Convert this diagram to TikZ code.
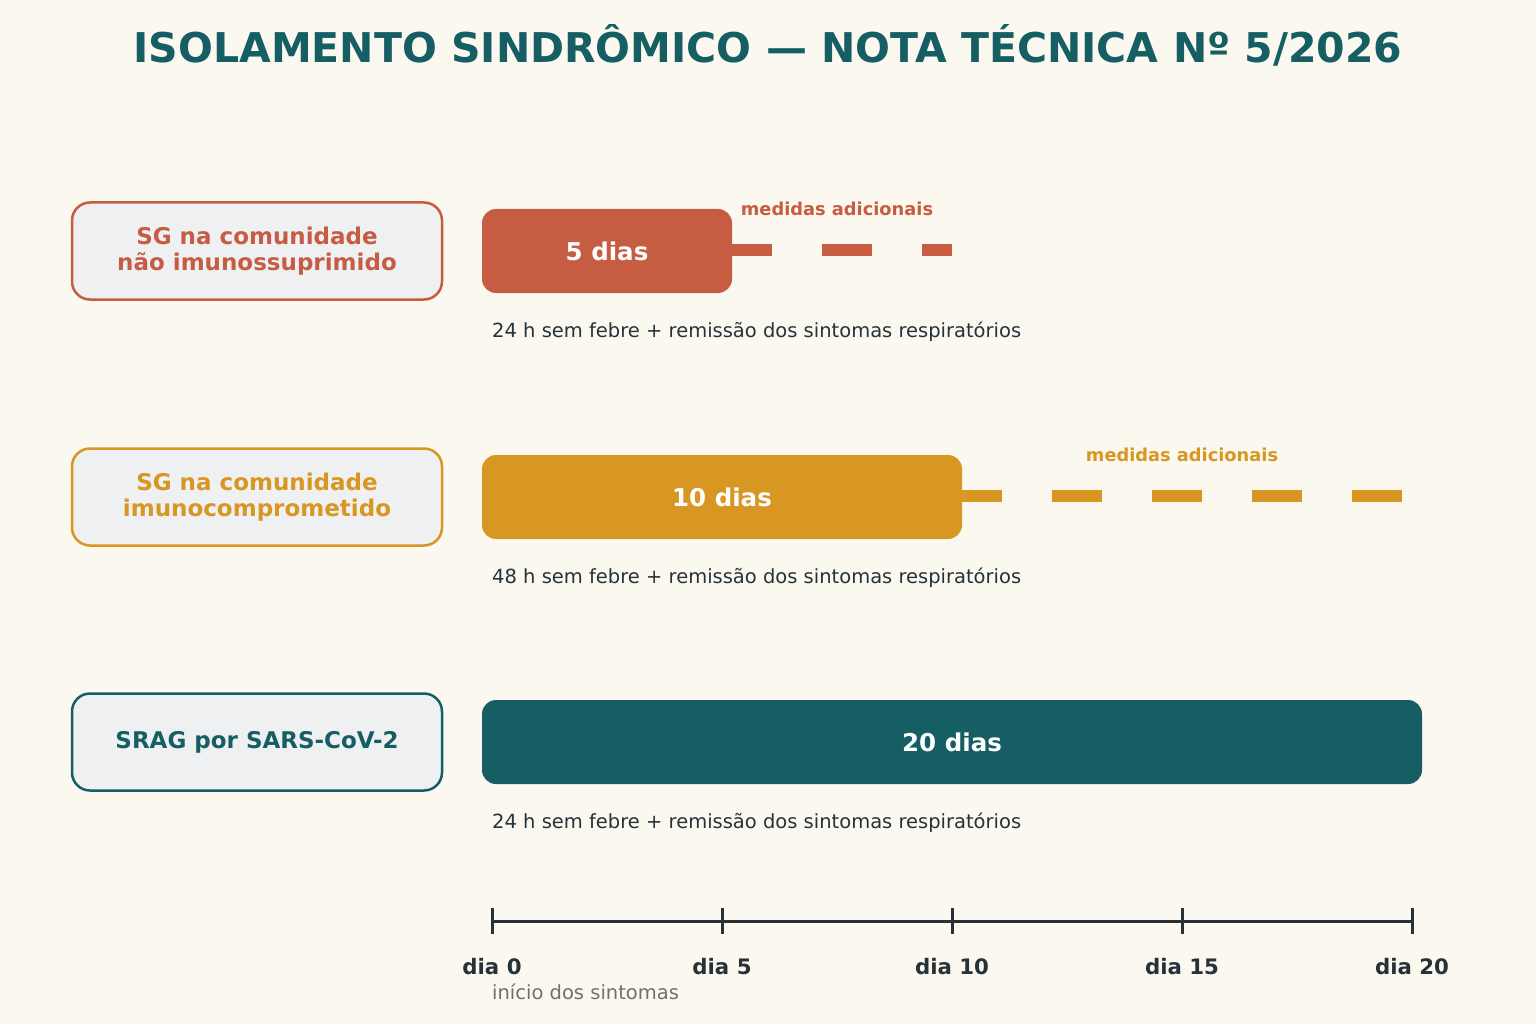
\documentclass[tikz,border=0pt]{standalone}
\usepackage{fontspec}
\setmainfont{DejaVu Sans}
\definecolor{bg}{HTML}{FBF8F0}
\definecolor{cred}{HTML}{C65D42}
\definecolor{corange}{HTML}{D89623}
\definecolor{cteal}{HTML}{155E63}
\definecolor{boxfill}{HTML}{EFF0F1}
\definecolor{dark}{HTML}{263238}
\definecolor{greytxt}{HTML}{707070}
\begin{document}
\begin{tikzpicture}[x=1pt,y=-1pt,
  catbox/.style={draw=#1, line width=2.5pt, fill=boxfill, rounded corners=18pt,
    minimum width=370pt, minimum height=97pt, align=center, text=#1,
    font=\bfseries\fontsize{23}{26.5}\selectfont, inner sep=0pt},
  bar/.style={fill=#1, rounded corners=14pt, minimum height=84pt, text=white,
    font=\bfseries\fontsize{24.5}{28}\selectfont, inner sep=0pt},
  extra/.style={draw=#1, line width=12pt, dash pattern=on 50pt off 50pt},
  extralabel/.style={text=#1, font=\bfseries\fontsize{17.8}{21}\selectfont, inner sep=0pt},
  cond/.style={text=dark, font=\fontsize{19.5}{23}\selectfont, anchor=west, inner sep=0pt},
  tick/.style={draw=dark, line width=3pt},
  daylabel/.style={text=dark, font=\bfseries\fontsize{21.3}{25}\selectfont, inner sep=0pt}
]
\useasboundingbox (0,0) rectangle (1536,1024);
\fill[bg] (0,0) rectangle (1536,1024);

\node[text=cteal, font=\bfseries\fontsize{41}{48}\selectfont, inner sep=0pt] (title) at (768,45)
  {ISOLAMENTO SINDRÔMICO — NOTA TÉCNICA Nº 5/2026};

% day positions
\coordinate (r1d5) at (722,250);
\coordinate (r1d10) at (952,250);
\coordinate (r2d10) at (952,496);
\coordinate (r2d20) at (1412,496);

% additional measures (dashed)
\draw[extra=cred] (r1d5) -- (r1d10);
\draw[extra=corange] (r2d10) -- (r2d20);

% category boxes
\node[catbox=cred] (c1) at (257,251) {SG na comunidade\\não imunossuprimido};
\node[catbox=corange] (c2) at (257,497) {SG na comunidade\\imunocomprometido};
\node[catbox=cteal] (c3) at (257,742) {SRAG por SARS-CoV-2};

% bars
\node[bar=cred, minimum width=250pt] (b1) at (607,251) {5 dias};
\node[bar=corange, minimum width=480pt] (b2) at (722,497) {10 dias};
\node[bar=cteal, minimum width=940pt] (b3) at (952,742) {20 dias};

\node[extralabel=cred] (m1) at (837,209) {medidas adicionais};
\node[extralabel=corange] (m2) at (1182,455) {medidas adicionais};

\node[cond] (t1) at (492,332) {24 h sem febre + remissão dos sintomas respiratórios};
\node[cond] (t2) at (492,578) {48 h sem febre + remissão dos sintomas respiratórios};
\node[cond] (t3) at (492,823) {24 h sem febre + remissão dos sintomas respiratórios};

% axis
\coordinate (a0) at (492,921);
\coordinate (a5) at (722,921);
\coordinate (a10) at (952,921);
\coordinate (a15) at (1182,921);
\coordinate (a20) at (1412,921);
\draw[tick] (a0) -- (a20);
\foreach \p/\l in {a0/dia 0, a5/dia 5, a10/dia 10, a15/dia 15, a20/dia 20} {
  \draw[tick] ([yshift=-13pt]\p) -- ([yshift=13pt]\p);
  \node[daylabel] at ([yshift=-46pt]\p) {\l};
}
\node[text=greytxt, font=\fontsize{19.5}{23}\selectfont, anchor=west, inner sep=0pt] (start) at (492,992) {início dos sintomas};
\end{tikzpicture}
\end{document}
